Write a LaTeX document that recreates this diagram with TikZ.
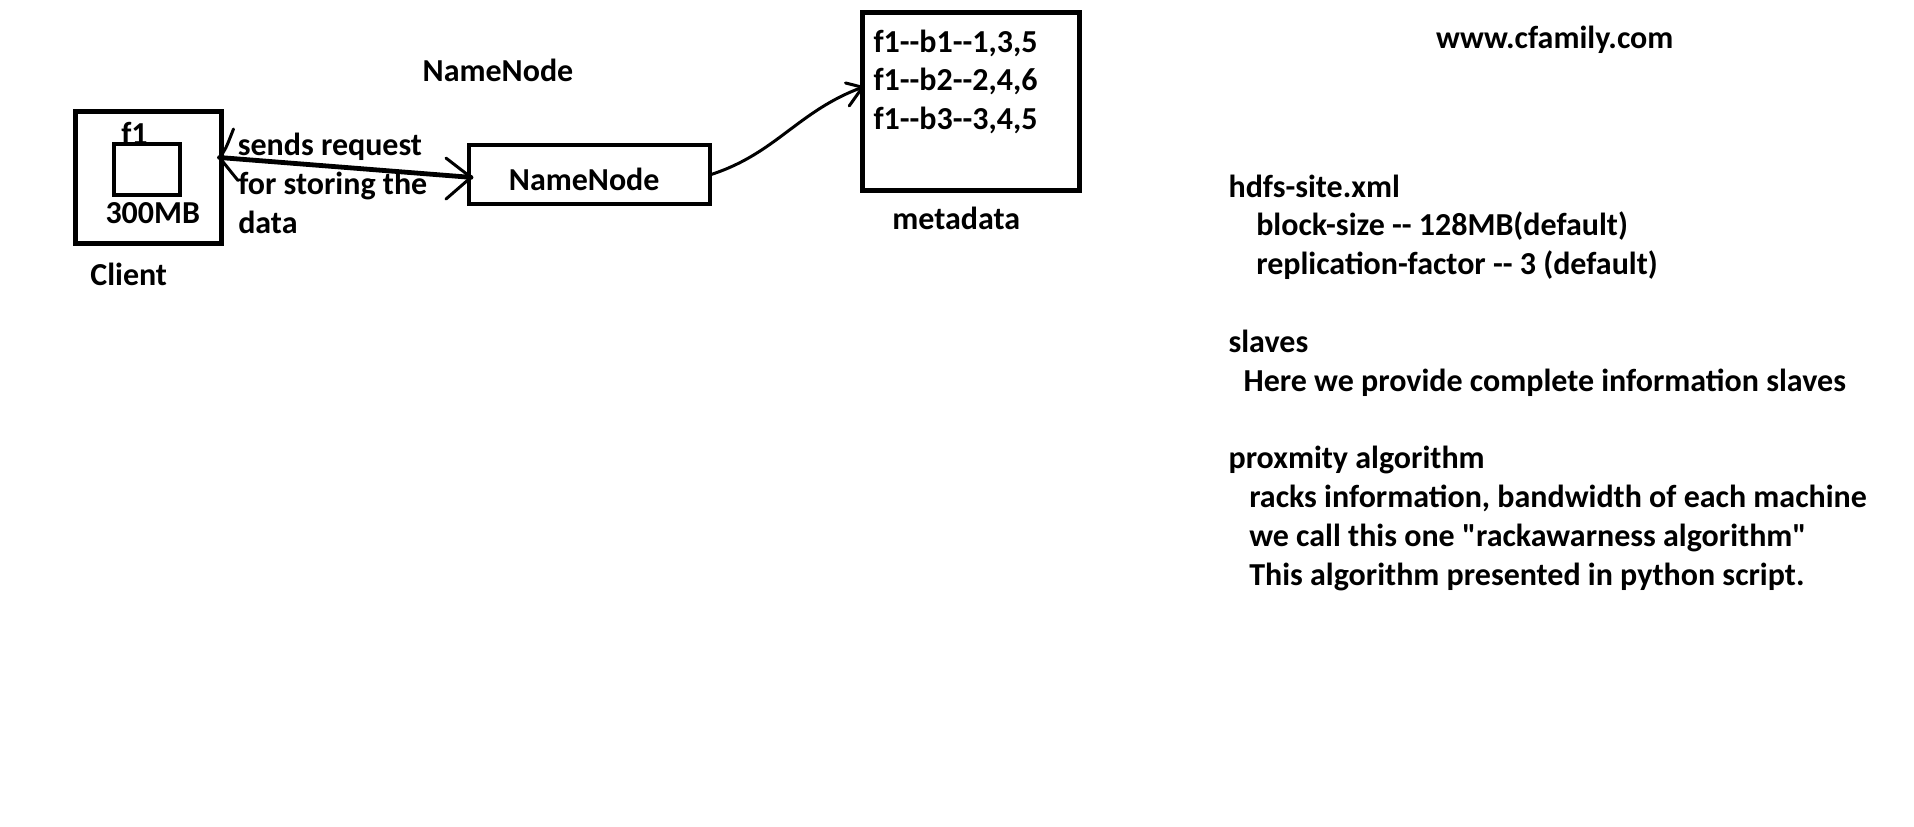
\documentclass[tikz,border=0pt]{standalone}
\usepackage{fontspec}
\newfontfamily\calfont{Carlito}[Ligatures=TeXOff]
\usetikzlibrary{fit,calc}
\begin{document}
\begin{tikzpicture}[x=0.75pt,y=-0.75pt,
  txt/.style={font=\calfont\bfseries\fontsize{24}{29}\selectfont, inner sep=0pt, anchor=base west},
  ctxt/.style={txt, anchor=base},
  boxline/.style={draw, line width=#1, inner sep=0pt},
  conn/.style={line width=3.6pt, line cap=round},
  arm/.style={line width=2.25pt, line cap=round},
  curvy/.style={line width=2.25pt, line cap=round}]
\fill[white] (0,0) rectangle (1914,826);
\useasboundingbox (0,0) rectangle (1914,826);

% client
\node[ctxt] (f1) at (134.5,144) {f1};
\node[boxline=3.75pt, fit={(75,111.5) (221.5,243)}] (client) {};
\node[boxline=3pt, fit={(113.5,144.3) (180,194.7)}] (blk) {};
\node[ctxt] (size) at (152.8,223.3) {300MB};
\node[ctxt] (clientlbl) at (128.7,285) {Client};

% request text
\node[txt] (req1) at (237.5,155) {sends request};
\node[txt] (req2) at (238,194.3) {for storing the};
\node[txt] (req3) at (238,233.3) {data};

% namenode
\node[ctxt] (nntitle) at (498,81.7) {NameNode};
\node[boxline=3pt, fit={(469,144.7) (709.5,204)}] (nn) {};
\node[ctxt] (nnlbl) at (584.2,190.7) {NameNode};

% metadata
\node[boxline=3.75pt, fit={(862.5,12.5) (1079.5,190)}] (meta) {};
\node[txt] (m1) at (873.3,52) {f1--b1--1,3,5};
\node[txt] (m2) at (873.3,90.6) {f1--b2--2,4,6};
\node[txt] (m3) at (873.3,129) {f1--b3--3,4,5};
\node[ctxt] (metalbl) at (956.3,229.3) {metadata};

% connectors
\coordinate (tA) at ($(client.north east)+(-4.5,48.5)$);
\coordinate (tB) at ($(nn.west)+(4,3)$);
\draw[conn] (tA) -- (tB);
\draw[arm] (tA) .. controls +(6,-8) .. +(14,-28.5);
\draw[arm] (tA) -- +(18.5,23);
\draw[arm] (tB) -- +(-25,-19.3);
\draw[arm] (tB) -- +(-25,21.7);

\coordinate (tC) at ($(meta.west)+(2.5,-14)$);
\draw[curvy] (nn.east) to[out=18,in=200] (tC);
\draw[arm] (tC) -- +(-17,-4.3);
\draw[arm] (tC) -- +(-13.3,18.7);

% right text
\node[ctxt] (site) at (1554.8,48.5) {www.cfamily.com};
\node[txt] (r0) at (1228.3,197) {hdfs-site.xml};
\node[txt] (r1) at (1256,235.8) {block-size -- 128MB(default)};
\node[txt] (r2) at (1256,274.6) {replication-factor -- 3 (default)};
\node[txt] (r4) at (1228.3,352.2) {slaves};
\node[txt] (r5) at (1243.3,391) {Here we provide complete information slaves};
\node[txt] (r7) at (1228.3,468.6) {proxmity algorithm};
\node[txt] (r8) at (1249,507.4) {racks information, bandwidth of each machine};
\node[txt] (r9) at (1249,546.2) {we call this one "rackawarness algorithm"};
\node[txt] (r10) at (1249,585) {This algorithm presented in python script.};
\end{tikzpicture}
\end{document}
